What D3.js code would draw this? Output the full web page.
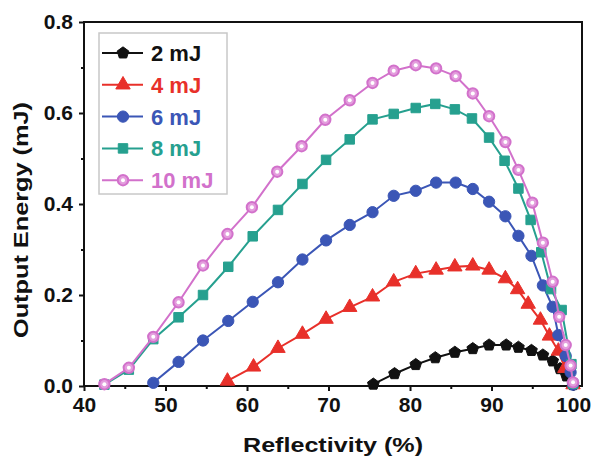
<!DOCTYPE html>
<html>
<head>
<meta charset="utf-8">
<script src="https://cdn.jsdelivr.net/npm/d3@7"></script>
<style>
  body { margin: 0; background: #fff; }
  text { font-family: "Liberation Sans", Arial, sans-serif; font-weight: bold; }
</style>
</head>
<body>
<div id="chart-area"></div>
<script>
// data
let r2 = [75.5, 78.1, 80.7, 83.1, 85.5, 87.7, 89.7, 91.8, 93.3, 94.9, 96.3, 97.5, 98.4, 99.2, 100.0];
let e2 = [0.004, 0.027, 0.047, 0.062, 0.074, 0.082, 0.090, 0.090, 0.085, 0.078, 0.068, 0.055, 0.038, 0.022, 0.003];

let r4 = [57.6, 60.8, 63.8, 66.8, 69.7, 72.6, 75.4, 78.0, 80.7, 83.2, 85.5, 87.7, 89.7, 91.7, 93.2, 94.5, 96.0, 97.1, 98.2, 99.0, 100.0];
let e4 = [0.011, 0.042, 0.083, 0.114, 0.147, 0.173, 0.196, 0.229, 0.247, 0.255, 0.262, 0.264, 0.255, 0.236, 0.212, 0.180, 0.145, 0.110, 0.077, 0.039, 0.003];

let r6 = [48.5, 51.6, 54.6, 57.7, 60.7, 63.8, 66.8, 69.7, 72.6, 75.4, 78.0, 80.7, 83.2, 85.6, 87.7, 89.7, 91.7, 93.3, 94.9, 96.3, 97.5, 98.2, 99.1, 99.7, 100.0];
let e6 = [0.007, 0.053, 0.100, 0.143, 0.185, 0.228, 0.278, 0.320, 0.354, 0.382, 0.418, 0.429, 0.447, 0.447, 0.433, 0.405, 0.373, 0.330, 0.286, 0.221, 0.174, 0.112, 0.066, 0.030, 0.003];

let r8 = [42.5, 45.5, 48.5, 51.6, 54.6, 57.7, 60.7, 63.8, 66.8, 69.7, 72.6, 75.4, 78.0, 80.7, 83.1, 85.5, 87.6, 89.7, 91.6, 93.3, 94.8, 96.1, 97.3, 98.6, 99.8, 100.0];
let e8 = [0.003, 0.036, 0.103, 0.151, 0.200, 0.262, 0.329, 0.387, 0.444, 0.497, 0.542, 0.586, 0.598, 0.611, 0.620, 0.608, 0.588, 0.546, 0.495, 0.434, 0.365, 0.294, 0.213, 0.167, 0.048, 0.005];

let r10 = [42.5, 45.5, 48.5, 51.6, 54.6, 57.6, 60.6, 63.7, 66.7, 69.6, 72.6, 75.4, 78.0, 80.7, 83.2, 85.6, 87.7, 89.7, 91.7, 93.3, 95.0, 96.3, 97.5, 98.3, 99.1, 99.7, 100.0];
let e10 = [0.004, 0.040, 0.108, 0.184, 0.265, 0.334, 0.393, 0.471, 0.527, 0.585, 0.628, 0.666, 0.693, 0.705, 0.698, 0.681, 0.643, 0.593, 0.536, 0.475, 0.403, 0.315, 0.229, 0.152, 0.090, 0.045, 0.008];

let names = ["2 mJ", "4 mJ", "6 mJ", "8 mJ", "10 mJ"];
let colors = ["#111111", "#e8302a", "#3b56b6", "#26a08f", "#d271cb"];
let xTicks = [40, 50, 60, 70, 80, 90, 100];
let xMinor = [45, 55, 65, 75, 85, 95];
let yTicks = [0, 0.2, 0.4, 0.6, 0.8];
let yMinor = [0.1, 0.3, 0.5, 0.7];

let series = [[r2, e2], [r4, e4], [r6, e6], [r8, e8], [r10, e10]].map((s, i) => ({
	name: names[i],
	color: colors[i],
	values: s[0].map((r, j) => ({ r: r, e: s[1][j] }))
}));

let width = 594, height = 464;
let margin = { top: 22, right: 12, bottom: 78, left: 84 };

let svg = d3.select('#chart-area').append('svg')
	.attr('width', width)
	.attr('height', height);

let x = d3.scaleLinear().domain([40, 101.1]).range([margin.left, width - margin.right]);
let y = d3.scaleLinear().domain([0, 0.8]).range([height - margin.bottom, margin.top]);

// pentagon marker, d3 has none
let pentagon = {
	draw: function (ctx, size) {
		let r = Math.sqrt(size / 2.378);
		for (let k = 0; k < 5; k++) {
			let a = -Math.PI / 2 + k * 2 * Math.PI / 5;
			if (k == 0) ctx.moveTo(r * Math.cos(a), r * Math.sin(a));
			else ctx.lineTo(r * Math.cos(a), r * Math.sin(a));
		}
		ctx.closePath();
	}
};
let shapes = [
	d3.symbol().type(pentagon).size(90),
	d3.symbol().type(d3.symbolTriangle).size(90),
	d3.symbol().type(d3.symbolCircle).size(100),
	d3.symbol().type(d3.symbolSquare).size(90),
	d3.symbol().type(d3.symbolCircle).size(85)
];

function drawMarker(g, i) {
	g.append('path')
		.attr('d', shapes[i]())
		.attr('fill', i == 4 ? '#e39ddd' : colors[i])
		.attr('stroke', colors[i])
		.attr('stroke-width', i == 4 ? 2 : 1);
	if (i == 4) {
		g.append('circle').attr('r', 2).attr('fill', '#fff');
	}
}

// axes
let xaxis = d3.axisBottom(x).tickValues(xTicks).tickSize(5).tickPadding(6).tickFormat(d3.format('d'));
let xaxisMinor = d3.axisBottom(x).tickValues(xMinor).tickSize(3).tickFormat('');
let yaxis = d3.axisLeft(y).tickValues(yTicks).tickSize(5).tickPadding(6).tickFormat(d3.format('.1f'));
let yaxisMinor = d3.axisLeft(y).tickValues(yMinor).tickSize(3).tickFormat('');

[xaxis, xaxisMinor].forEach(a => {
	svg.append('g')
		.attr('class', 'axis')
		.attr('transform', 'translate(0,' + y(0) + ')')
		.call(a);
});
[yaxis, yaxisMinor].forEach(a => {
	svg.append('g')
		.attr('class', 'axis')
		.attr('transform', 'translate(' + x(40) + ',0)')
		.call(a);
});
svg.selectAll('.axis .domain').remove();
svg.selectAll('.axis line').attr('stroke', '#111').attr('stroke-width', 2);
svg.selectAll('.axis text').attr('font-size', 21).attr('fill', '#111');

// frame
svg.append('rect')
	.attr('x', x(40)).attr('y', y(0.8))
	.attr('width', x(101.1) - x(40)).attr('height', y(0) - y(0.8))
	.attr('fill', 'none').attr('stroke', '#111').attr('stroke-width', 2);

// lines and markers
let line = d3.line().x(d => x(d.r)).y(d => y(d.e));
series.forEach((s, i) => {
	svg.append('path')
		.datum(s.values)
		.attr('d', line)
		.attr('fill', 'none')
		.attr('stroke', s.color)
		.attr('stroke-width', 2);
	s.values.forEach(d => {
		let g = svg.append('g').attr('transform', 'translate(' + x(d.r) + ',' + y(d.e) + ')');
		drawMarker(g, i);
	});
});

// legend
let legend = svg.append('g');
legend.append('rect')
	.attr('x', 99).attr('y', 33).attr('width', 128).attr('height', 161)
	.attr('fill', '#fff').attr('stroke', '#c8c8c8').attr('stroke-width', 1.5);
series.forEach((s, i) => {
	let ly = 53 + i * 31.8;
	legend.append('line')
		.attr('x1', 102).attr('x2', 143).attr('y1', ly).attr('y2', ly)
		.attr('stroke', s.color).attr('stroke-width', 2);
	let g = legend.append('g').attr('transform', 'translate(123,' + ly + ')');
	drawMarker(g, i);
	legend.append('text')
		.attr('x', 151).attr('y', ly + 8)
		.attr('font-size', 22)
		.attr('fill', s.color)
		.text(s.name);
});

// axis titles
svg.append('text')
	.attr('x', 333).attr('y', 452)
	.attr('text-anchor', 'middle')
	.attr('font-size', 21)
	.attr('textLength', 180).attr('lengthAdjust', 'spacingAndGlyphs')
	.attr('fill', '#111')
	.text('Reflectivity (%)');

svg.append('text')
	.attr('transform', 'translate(28,220) rotate(-90)')
	.attr('text-anchor', 'middle')
	.attr('font-size', 21)
	.attr('textLength', 236).attr('lengthAdjust', 'spacingAndGlyphs')
	.attr('fill', '#111')
	.text('Output Energy (mJ)');
</script>
</body>
</html>
